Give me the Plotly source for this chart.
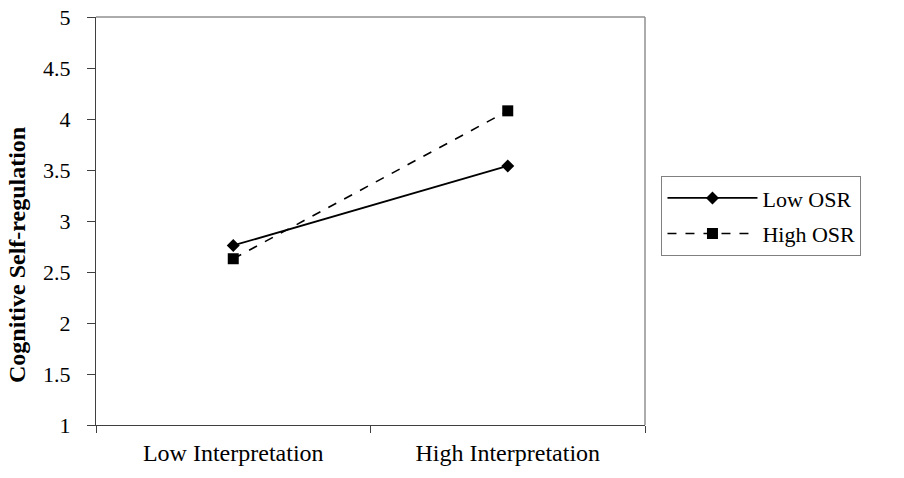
import plotly.graph_objects as go

categories = ["Low Interpretation", "High Interpretation"]
low_osr = [2.76, 3.54]
high_osr = [2.63, 4.08]
y_ticks = [1, 1.5, 2, 2.5, 3, 3.5, 4, 4.5, 5]
y_tick_labels = ["1", "1.5", "2", "2.5", "3", "3.5", "4", "4.5", "5"]

font = "Liberation Serif, Times New Roman, serif"

fig = go.Figure()
fig.add_trace(go.Scatter(
    x=categories, y=low_osr, name="Low OSR", mode="lines+markers",
    legendgroup="a",
    line=dict(color="black", width=1.8),
    marker=dict(symbol="diamond", size=10, color="black"),
))
fig.add_trace(go.Scatter(
    x=categories, y=high_osr, name="High OSR", mode="lines+markers",
    legendgroup="b",
    line=dict(color="black", width=1.6, dash="dash"),
    marker=dict(symbol="square", size=11, color="black"),
))

fig.update_layout(
    width=904, height=478,
    margin=dict(l=96, r=259, t=17, b=53, autoexpand=False),
    paper_bgcolor="white", plot_bgcolor="white",
    font=dict(family=font, size=22, color="black"),
    showlegend=True,
    legend=dict(
        x=1.03, y=0.61, xanchor="left", yanchor="top",
        bordercolor="#808080", borderwidth=1,
        font=dict(family=font, size=22, color="black"),
        traceorder="grouped", tracegroupgap=4,
        itemwidth=90,
    ),
    xaxis=dict(
        type="category", range=[-0.5, 1.5], tickson="boundaries",
        showline=True, linecolor="#404040", linewidth=1.3,
        ticks="outside", ticklen=7, tickcolor="#404040",
        showgrid=False, zeroline=False, ticklabelstandoff=6,
        automargin=False,
        tickfont=dict(family=font, size=24, color="black"),
    ),
    yaxis=dict(
        range=[1, 5], tickvals=y_ticks, ticktext=y_tick_labels,
        showline=True, linecolor="#404040", linewidth=1.3,
        ticks="outside", ticklen=8, tickcolor="#404040",
        showgrid=False, zeroline=False, ticklabelstandoff=12,
        automargin=False,
        tickfont=dict(family=font, size=22, color="black"),
    ),
    annotations=[dict(
        text="<b>Cognitive Self-regulation</b>", textangle=-90,
        x=0, xref="paper", y=0.5, yref="paper",
        xanchor="center", yanchor="middle", xshift=-79, yshift=-34,
        showarrow=False,
        font=dict(family=font, size=24, color="black"),
    )],
    shapes=[
        dict(type="line", xref="paper", yref="paper", x0=0, x1=1, y0=1, y1=1,
             line=dict(color="#909090", width=1.5)),
        dict(type="line", xref="paper", yref="paper", x0=1, x1=1, y0=0, y1=1,
             line=dict(color="#909090", width=1.5)),
    ],
)

fig.write_html("out.html")
